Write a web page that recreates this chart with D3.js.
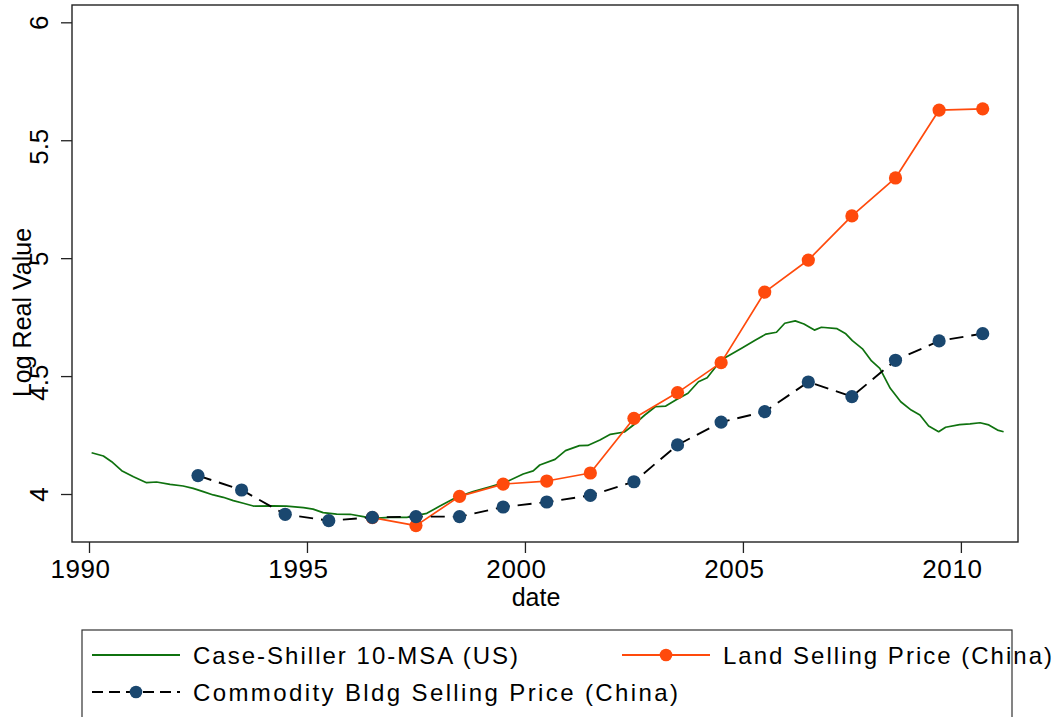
<!DOCTYPE html>
<html>
<head>
<meta charset="utf-8">
<script src="https://cdn.jsdelivr.net/npm/d3@7"></script>
<style>
  html, body { margin: 0; padding: 0; background: #fff; }
  svg { display: block; font-family: "Liberation Sans", Arial, sans-serif; }
</style>
</head>
<body>
<svg id="chart" width="1055" height="717"></svg>
<script>
// ---- data ----
// Case-Shiller 10-MSA composite (US), log real value, by fractional year
const caseShillerDates = [
  1990.06, 1990.33, 1990.52, 1990.75, 1991.02, 1991.32, 1991.55, 1991.86, 1992.16, 1992.39,
  1992.62, 1992.85, 1993.08, 1993.31, 1993.54, 1993.77, 1994.23, 1994.53, 1994.92, 1995.14,
  1995.37, 1995.68, 1995.99, 1996.29, 1996.52, 1996.90, 1997.29, 1997.75, 1998.05, 1998.43,
  1998.81, 1999.20, 1999.58, 1999.96, 2000.19, 2000.34, 2000.69, 2000.93, 2001.25, 2001.44,
  2001.72, 2001.96, 2002.28, 2002.52, 2002.75, 2002.99, 2003.23, 2003.46, 2003.74, 2003.98,
  2004.18, 2004.50, 2004.97, 2005.29, 2005.53, 2005.77, 2005.96, 2006.20, 2006.40, 2006.64,
  2006.80, 2007.16, 2007.35, 2007.51, 2007.75, 2007.95, 2008.14, 2008.38, 2008.62, 2008.86,
  2009.06, 2009.26, 2009.49, 2009.65, 2009.97, 2010.21, 2010.44, 2010.64, 2010.84, 2010.98
];
const caseShillerValues = [
  4.175, 4.161, 4.137, 4.099, 4.073, 4.048, 4.051, 4.041, 4.034, 4.024,
  4.010, 3.996, 3.986, 3.972, 3.961, 3.949, 3.950, 3.949, 3.942, 3.936,
  3.921, 3.915, 3.914, 3.904, 3.897, 3.901, 3.901, 3.918, 3.949, 3.986,
  4.010, 4.031, 4.052, 4.085, 4.098, 4.123, 4.147, 4.184, 4.205, 4.206,
  4.229, 4.253, 4.263, 4.297, 4.335, 4.370, 4.373, 4.399, 4.427, 4.476,
  4.493, 4.568, 4.618, 4.653, 4.678, 4.686, 4.724, 4.734, 4.721, 4.695,
  4.707, 4.701, 4.681, 4.650, 4.614, 4.564, 4.533, 4.448, 4.391, 4.356,
  4.335, 4.288, 4.264, 4.283, 4.294, 4.297, 4.302, 4.293, 4.271, 4.264
];

// Land selling price (China), annual, plotted at mid-year
const landYears = [1996.5, 1997.5, 1998.5, 1999.5, 2000.5, 2001.5, 2002.5, 2003.5,
                   2004.5, 2005.5, 2006.5, 2007.5, 2008.5, 2009.5, 2010.5];
const landValues = [3.900, 3.866, 3.990, 4.042, 4.055, 4.089, 4.321, 4.430,
                    4.557, 4.856, 4.992, 5.179, 5.340, 5.628, 5.633];

// Commodity building selling price (China), annual, plotted at mid-year
const bldgYears = [1992.5, 1993.5, 1994.5, 1995.5, 1996.5, 1997.5, 1998.5, 1999.5, 2000.5,
                   2001.5, 2002.5, 2003.5, 2004.5, 2005.5, 2006.5, 2007.5, 2008.5, 2009.5, 2010.5];
const bldgValues = [4.078, 4.017, 3.914, 3.887, 3.901, 3.904, 3.904, 3.945, 3.966,
                    3.994, 4.052, 4.208, 4.305, 4.349, 4.475, 4.413, 4.567, 4.649, 4.680];

const xTicks = [1990, 1995, 2000, 2005, 2010];
const yTicks = [4, 4.5, 5, 5.5, 6];
const yTickLabels = ["4", "4.5", "5", "5.5", "6"];

const seriesNames = ["Case-Shiller 10-MSA (US)", "Land Selling Price (China)", "Commodity Bldg Selling Price (China)"];
const colors = { green: "#0f720f", orange: "#ff4a0c", navy: "#1a476f", dash: "#000" };

// ---- layout ----
const plot = { left: 72, right: 1018, top: 5, bottom: 542 };
const svg = d3.select("#chart");

const x = d3.scaleLinear().domain([1989.61, 2011.31]).range([plot.left, plot.right]);
const y = d3.scaleLinear().domain([3.7965, 6.0734]).range([plot.bottom, plot.top]);

// text in this chart sits a little before its nominal centre, ~3px per extra glyph
const shift = s => -(String(s).length - 1) * 3;

// ---- axes ----
const xAxis = d3.axisBottom(x).tickValues(xTicks).tickFormat(d3.format("d"))
  .tickSize(11).tickSizeOuter(0);
const gx = svg.append("g").attr("transform", `translate(0,${plot.bottom})`).call(xAxis);
gx.select(".domain").remove();
gx.selectAll(".tick line").attr("stroke", "#222").attr("stroke-width", 1.3);
gx.selectAll(".tick text")
  .attr("font-size", 26).attr("fill", "#000").attr("font-family", "Liberation Sans, Arial, sans-serif")
  .attr("letter-spacing", 0.6)
  .attr("y", 36).attr("dy", 0)
  .attr("dx", d => shift(d));

const labelOf = d => yTickLabels[yTicks.indexOf(d)];
const yAxis = d3.axisLeft(y).tickValues(yTicks).tickFormat(labelOf)
  .tickSize(11).tickSizeOuter(0);
const gy = svg.append("g").attr("transform", `translate(${plot.left},0)`).call(yAxis);
gy.select(".domain").remove();
gy.selectAll(".tick line").attr("stroke", "#222").attr("stroke-width", 1.3);
gy.selectAll(".tick text")
  .attr("font-size", 26).attr("fill", "#000").attr("font-family", "Liberation Sans, Arial, sans-serif")
  .attr("x", 0).attr("dy", 0)
  .attr("text-anchor", "middle")
  .attr("transform", "translate(-24,0) rotate(-90)")
  .attr("dx", d => shift(labelOf(d)));

// axis titles
svg.append("text")
  .attr("x", (plot.left + plot.right) / 2).attr("y", 606)
  .attr("dx", shift("date"))
  .attr("text-anchor", "middle").attr("font-size", 25).text("date");

svg.append("text")
  .attr("transform", `translate(31,${(plot.top + plot.bottom) / 2}) rotate(-90)`)
  .attr("dx", shift("Log Real Value"))
  .attr("text-anchor", "middle").attr("font-size", 25).text("Log Real Value");

// plot frame
svg.append("rect")
  .attr("x", plot.left).attr("y", plot.top)
  .attr("width", plot.right - plot.left).attr("height", plot.bottom - plot.top)
  .attr("fill", "none").attr("stroke", "#222").attr("stroke-width", 1.4);

// ---- series ----
const line = d3.line().x(d => x(d[0])).y(d => y(d[1]));

const csData = d3.zip(caseShillerDates, caseShillerValues);
const landData = d3.zip(landYears, landValues);
const bldgData = d3.zip(bldgYears, bldgValues);

svg.append("path").datum(csData)
  .attr("d", line).attr("fill", "none")
  .attr("stroke", colors.green).attr("stroke-width", 1.7).attr("stroke-linejoin", "round");

svg.append("path").datum(landData)
  .attr("d", line).attr("fill", "none")
  .attr("stroke", colors.orange).attr("stroke-width", 1.7).attr("stroke-linejoin", "round");
svg.append("g").selectAll("circle").data(landData).join("circle")
  .attr("cx", d => x(d[0])).attr("cy", d => y(d[1])).attr("r", 6.6)
  .attr("fill", colors.orange);

svg.append("path").datum(bldgData)
  .attr("d", line).attr("fill", "none")
  .attr("stroke", colors.dash).attr("stroke-width", 1.9)
  .attr("stroke-dasharray", "14,8");
svg.append("g").selectAll("circle").data(bldgData).join("circle")
  .attr("cx", d => x(d[0])).attr("cy", d => y(d[1])).attr("r", 6.6)
  .attr("fill", colors.navy);

// ---- legend ----
const legend = svg.append("g");
legend.append("rect")
  .attr("x", 82).attr("y", 630).attr("width", 930).attr("height", 120)
  .attr("fill", "none").attr("stroke", "#333").attr("stroke-width", 1.2);

const legendItems = [
  { name: seriesNames[0], x0: 92, y0: 655, color: colors.green, dash: null, marker: null, textLen: 325 },
  { name: seriesNames[1], x0: 622, y0: 655, color: colors.orange, dash: null, marker: colors.orange, textLen: 329 },
  { name: seriesNames[2], x0: 92, y0: 692, color: colors.dash, dash: "11,6", marker: colors.navy, textLen: 485 }
];
legendItems.forEach(it => {
  legend.append("line")
    .attr("x1", it.x0).attr("x2", it.x0 + 88).attr("y1", it.y0).attr("y2", it.y0)
    .attr("stroke", it.color).attr("stroke-width", 1.8)
    .attr("stroke-dasharray", it.dash);
  if (it.marker) {
    legend.append("circle").attr("cx", it.x0 + 44).attr("cy", it.y0).attr("r", 6.3).attr("fill", it.marker);
  }
  legend.append("text")
    .attr("x", it.x0 + 101).attr("y", it.y0 + 8.5)
    .attr("font-size", 24)
    .attr("textLength", it.textLen).attr("lengthAdjust", "spacing")
    .text(it.name);
});
</script>
</body>
</html>
